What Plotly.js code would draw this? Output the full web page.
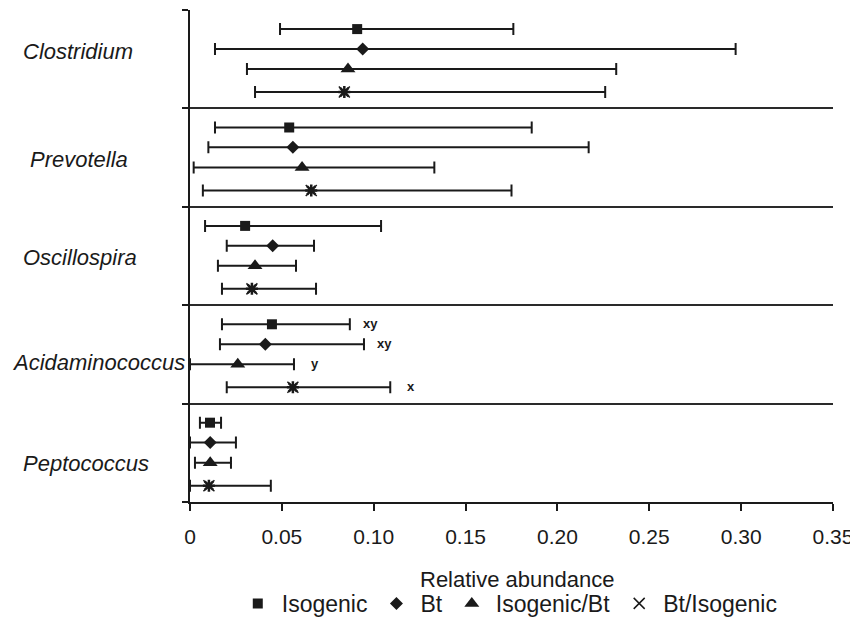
<!DOCTYPE html>
<html>
<head>
<meta charset="utf-8">
<script src="https://cdn.plot.ly/plotly-3.0.1.min.js"></script>
<style>
html,body{margin:0;padding:0;background:#fff;}
#chart{width:850px;height:617px;}
</style>
</head>
<body>
<div id="chart"></div>
<script>
// ---- data ----
var categories = ['Clostridium', 'Prevotella', 'Oscillospira', 'Acidaminococcus', 'Peptococcus'];
var seriesNames = ['Isogenic', 'Bt', 'Isogenic/Bt', 'Bt/Isogenic'];

var isoMean  = [0.091, 0.054, 0.030, 0.0446, 0.0109];
var isoLow   = [0.049, 0.0136, 0.0082, 0.0174, 0.0054];
var isoHigh  = [0.176, 0.186, 0.104, 0.087, 0.0169];

var btMean   = [0.094, 0.056, 0.045, 0.041, 0.011];
var btLow    = [0.0136, 0.010, 0.020, 0.0163, 0.0];
var btHigh   = [0.297, 0.217, 0.0675, 0.0947, 0.025];

var isoBtMean = [0.086, 0.061, 0.0354, 0.026, 0.011];
var isoBtLow  = [0.031, 0.002, 0.0152, 0.0, 0.0027];
var isoBtHigh = [0.232, 0.133, 0.0577, 0.0566, 0.0223];

var btIsoMean = [0.084, 0.066, 0.0337, 0.056, 0.0103];
var btIsoLow  = [0.0354, 0.007, 0.0174, 0.020, 0.0];
var btIsoHigh = [0.226, 0.175, 0.0686, 0.109, 0.044];

// significance letters for Acidaminococcus (per series)
var sigCategory = 'Acidaminococcus';
var sigLetters = ['xy', 'xy', 'y', 'x'];

var xTitle = 'Relative abundance';
var xTickVals = [0, 0.05, 0.10, 0.15, 0.20, 0.25, 0.30, 0.35];
var xTickText = ['0', '0.05', '0.10', '0.15', '0.20', '0.25', '0.30', '0.35'];

// ---- layout helpers (positions / styles) ----
var GROUP = 5;                              // y units per category block
var rowOffset = [0.97, 1.98, 3.0, 4.17];    // row position inside a block
var labelOffset = [2.13, 2.62, 2.60, 2.89, 3.02];
var labelX = [-0.263, -0.252, -0.263, -0.280, -0.263];
var FONT = 'Liberation Sans, Arial, sans-serif';
var INK = '#1a1a1a';

function rowY(s) {
  return categories.map(function (c, i) { return i * GROUP + rowOffset[s]; });
}
function errBar(mean, low, high) {
  return {
    type: 'data', symmetric: false,
    array: mean.map(function (m, i) { return high[i] - m; }),
    arrayminus: mean.map(function (m, i) { return m - low[i]; }),
    color: INK, thickness: 2, width: 6
  };
}

var means = [isoMean, btMean, isoBtMean, btIsoMean];
var lows  = [isoLow, btLow, isoBtLow, btIsoLow];
var highs = [isoHigh, btHigh, isoBtHigh, btIsoHigh];
var symbols = ['square', 'diamond', 'triangle-up', 'x-thin-open'];
var sizes = [10, 10, 13, 11];

var traces = [];
for (var s = 0; s < 4; s++) {
  traces.push({
    type: 'scatter', mode: 'markers', name: seriesNames[s],
    x: means[s], y: rowY(s), text: categories,
    error_x: errBar(means[s], lows[s], highs[s]),
    marker: { symbol: symbols[s], size: sizes[s], color: INK,
              line: { color: INK, width: s === 3 ? 1.5 : 0 } },
    cliponaxis: false,
    hovertemplate: '%{text}<br>' + seriesNames[s] + ': %{x}<extra></extra>'
  });
}
// full asterisk glyph for Bt/Isogenic inside the plot
traces.push({
  type: 'scatter', mode: 'markers', name: seriesNames[3], showlegend: false,
  x: btIsoMean, y: rowY(3), hoverinfo: 'skip', cliponaxis: false,
  marker: { symbol: 'asterisk-open', size: 10, color: INK, line: { color: INK, width: 2.5 } }
});

var annotations = categories.map(function (c, i) {
  return {
    text: c, xref: 'paper', yref: 'y', x: labelX[i], y: i * GROUP + labelOffset[i],
    xanchor: 'left', yanchor: 'middle', showarrow: false,
    font: { family: FONT, size: 22, style: 'italic', color: INK }
  };
});
var ci = categories.indexOf(sigCategory);
for (var k = 0; k < 4; k++) {
  annotations.push({
    text: '<b>' + sigLetters[k] + '</b>', xref: 'x', yref: 'y',
    x: highs[k][ci], y: rowY(k)[ci], xshift: 21, yshift: 1,
    xanchor: 'center', yanchor: 'middle', showarrow: false,
    font: { family: FONT, size: 13, color: INK }
  });
}
// x-axis title, placed as in the reference
annotations.push({
  text: xTitle, xref: 'paper', yref: 'paper', x: 0.508, y: -0.158,
  xanchor: 'center', yanchor: 'middle', showarrow: false,
  font: { family: FONT, size: 22, color: INK }
});

var layout = {
  width: 850, height: 617,
  margin: { l: 190, r: 17, t: 10, b: 115, autoexpand: false },
  paper_bgcolor: '#fff', plot_bgcolor: '#fff',
  font: { family: FONT, color: INK },
  showlegend: true,
  legend: {
    orientation: 'h', xref: 'paper', x: 0.495, xanchor: 'center',
    yref: 'container', y: 0.022, yanchor: 'middle', itemwidth: 38,
    font: { family: FONT, size: 23, color: INK }, bgcolor: 'rgba(0,0,0,0)',
    itemclick: false, itemdoubleclick: false
  },
  xaxis: {
    range: [0, 0.35], tickvals: xTickVals, ticktext: xTickText,
    showline: true, linecolor: INK, linewidth: 2,
    ticks: 'outside', ticklen: 7, tickwidth: 2, tickcolor: INK,
    ticklabelstandoff: 8, ticklabeloverflow: 'allow',
    showgrid: false, zeroline: false,
    tickfont: { family: FONT, size: 21, color: INK }
  },
  yaxis: {
    range: [categories.length * GROUP, 0],
    tickvals: categories.map(function (c, i) { return i * GROUP; }).concat([categories.length * GROUP]),
    showticklabels: false,
    ticks: 'outside', ticklen: 6, tickwidth: 2, tickcolor: INK,
    showgrid: true, gridcolor: '#2a2a2a', gridwidth: 2,
    showline: true, linecolor: INK, linewidth: 2, zeroline: false
  },
  annotations: annotations
};

Plotly.newPlot('chart', traces, layout, { displayModeBar: false, staticPlot: false });
</script>
</body>
</html>
